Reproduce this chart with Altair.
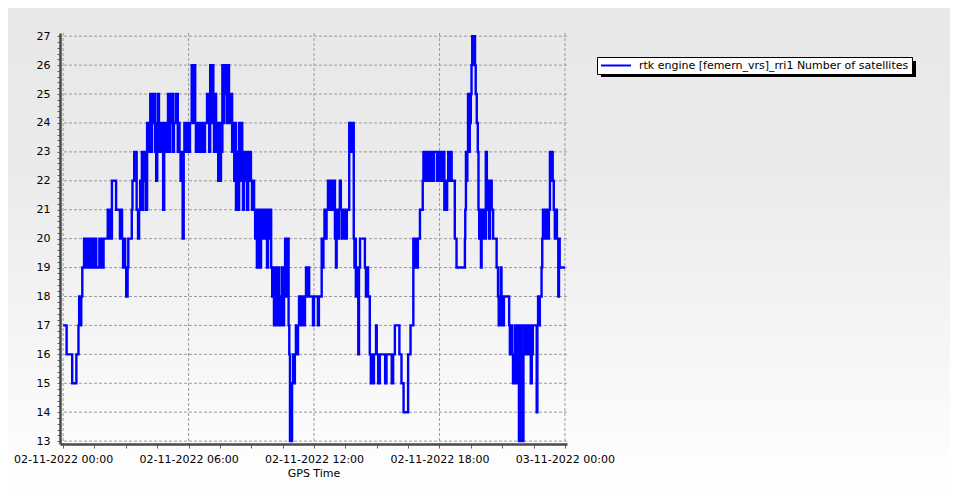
import altair as alt
import pandas as pd

# ---- data: change points of the step line ----
# minutes after 02-11-2022 00:00 (GPS Time)
minutes = [
    0, 10, 26, 38, 44, 46, 49, 52, 55, 60, 63, 66, 70, 75, 79, 83, 87, 92, 95, 104,
    108, 110, 113, 116, 128, 130, 133, 136, 140, 152, 163, 166, 169, 172, 175, 178, 181, 185, 187, 197,
    199, 204, 211,
    215, 218, 221, 224, 226, 228, 230, 232, 235, 238, 241, 244, 247, 250, 252, 255, 258, 261, 264, 267,
    270, 272, 275, 278, 281, 284, 287, 290, 293, 295, 298, 301, 304, 307, 310, 313, 315, 318, 323, 329,
    331, 334, 337, 340, 343, 346, 348, 350,
    353, 356, 358, 361, 364, 369, 371, 374, 379, 381, 384, 389, 391, 396, 399, 403, 407, 413, 416, 419,
    422, 424, 427, 431, 433, 436, 439, 442, 445, 447, 450, 453, 457, 459, 462, 465, 467, 470, 473, 476,
    479, 482, 485, 488, 491, 493, 496, 499, 502, 505, 508, 510, 514, 516, 519, 522, 525, 528, 531, 533,
    536, 539, 542, 545, 548,
    551, 554, 556, 559, 562, 565, 568, 571, 574, 576, 579, 582, 585, 588, 591, 594, 597, 600, 602, 605,
    608, 611, 614, 617, 620, 622, 625, 628, 631, 634, 637, 640, 642, 645, 647, 649, 651, 657, 660, 662,
    665, 668, 671, 674, 677, 680, 683, 685, 688, 691, 694, 697, 700, 703, 706,
    717, 720, 731, 734, 742, 744, 747, 750, 753, 756, 760, 763, 766, 769, 772, 774, 777, 780, 783, 785,
    789, 792, 794, 797, 800, 803, 806, 809, 812, 814,
    821, 823, 826, 829, 832, 834, 836, 838, 840, 843, 847, 849, 852, 866, 869, 872, 875, 880, 883, 886,
    889, 892, 898, 900, 904, 909, 924, 928, 943, 947, 952, 965, 971, 977, 990, 997, 1005, 1010, 1012, 1015,
    1018, 1024, 1032, 1034, 1037, 1040, 1042, 1045, 1048, 1051, 1055, 1058, 1061, 1064, 1073, 1075,
    1081, 1084, 1087, 1090, 1094, 1096, 1098, 1102, 1105, 1108, 1110, 1115, 1124, 1129, 1153, 1154, 1156, 1158,
    1160, 1162, 1164, 1167, 1170, 1172, 1174, 1176, 1179, 1182, 1184, 1187, 1190, 1192, 1194, 1196, 1199,
    1201, 1203, 1205, 1207, 1210, 1213, 1216, 1219, 1222, 1225, 1228, 1230, 1234, 1244,
    1248, 1250, 1256, 1258, 1261, 1263, 1265, 1280, 1282, 1285, 1288, 1291, 1293, 1296, 1299, 1302, 1305,
    1308, 1311, 1314, 1316, 1318, 1321, 1323, 1325, 1328, 1331, 1334, 1337, 1339, 1342, 1345, 1348, 1359,
    1361, 1363, 1365, 1368, 1373, 1375, 1377, 1380, 1382, 1385, 1388, 1391, 1394, 1397, 1400, 1402, 1405,
    1408, 1411, 1414, 1417, 1421, 1423, 1425, 1440,
]
# number of satellites from each change point on
sats = [
    17, 16, 15, 16, 17, 18, 17, 18, 19, 20, 19, 20, 19, 20, 19, 20, 19, 20, 19, 20,
    19, 20, 19, 20, 21, 20, 21, 20, 22, 21, 20, 21, 20, 19, 20, 19, 18, 19, 20, 21,
    22, 23, 21,
    20, 21, 22, 21, 23, 21, 23, 22, 23, 21, 24, 23, 24, 25, 23, 25, 24, 25, 23, 22,
    24, 25, 23, 24, 23, 24, 21, 23, 24, 23, 24, 25, 23, 25, 24, 25, 23, 24, 25, 23,
    24, 23, 22, 23, 20, 23, 24, 23,
    24, 23, 24, 23, 24, 26, 24, 26, 24, 23, 24, 23, 24, 23, 24, 23, 24, 25, 24, 23,
    26, 24, 26, 24, 23, 25, 24, 23, 22, 24, 22, 23, 26, 24, 26, 25, 26, 24, 26, 25,
    24, 25, 23, 24, 22, 24, 21, 23, 21, 24, 22, 24, 23, 21, 23, 22, 23, 21, 23, 22,
    23, 22, 21, 22, 21,
    20, 21, 19, 20, 21, 19, 20, 21, 20, 21, 20, 21, 19, 21, 20, 21, 19, 18, 19, 17,
    19, 18, 17, 19, 18, 17, 18, 19, 17, 18, 20, 19, 18, 20, 17, 16, 13, 15, 16, 15,
    16, 17, 16, 17, 18, 17, 18, 17, 18, 17, 18, 19, 18, 19, 18,
    17, 18, 17, 18, 20, 19, 20, 21, 20, 21, 22, 21, 22, 21, 22, 21, 22, 20, 19, 21,
    20, 21, 22, 21, 20, 21, 20, 21, 20, 21,
    24, 23, 24, 23, 24, 20, 19, 20, 18, 19, 16, 19, 20, 19, 18, 19, 18, 16, 15, 16,
    15, 16, 17, 16, 15, 16, 15, 16, 15, 16, 17, 16, 15, 14, 16, 17, 20, 19, 20, 19,
    20, 21, 22, 23, 22, 23, 22, 23, 22, 23, 22, 23, 22, 23, 22, 23,
    22, 23, 22, 23, 21, 22, 21, 22, 23, 22, 23, 22, 20, 19, 20, 21, 23, 22,
    23, 25, 23, 24, 25, 26, 27, 26, 27, 26, 25, 24, 23, 21, 20, 21, 19,
    20, 21, 20, 21, 20, 23, 21, 22, 20, 21, 22, 21, 20, 19,
    18, 17, 19, 17, 18, 17, 18, 17, 16, 17, 16, 15, 16, 17, 15, 16, 17,
    13, 15, 17, 16, 13, 16, 17, 16, 17, 16, 17, 16, 17, 15, 16, 17, 14,
    17, 18, 17, 18, 19, 20, 21, 20, 21, 20, 21, 20, 21, 23, 22, 23, 22,
    21, 20, 21, 20, 18, 20, 19, 19,
]

series_name = "rtk engine [femern_vrs]_rri1 Number of satellites"
grid_hours = [0, 6, 12, 18, 24]
grid_values = list(range(13, 28))

start = pd.Timestamp("2022-11-02 00:00")
df = pd.DataFrame({
    "time": [start + pd.Timedelta(minutes=m) for m in minutes],
    "sats": sats,
    "series": series_name,
})
grid_x = pd.DataFrame({"time": [start + pd.Timedelta(hours=h) for h in grid_hours]})
grid_y = pd.DataFrame({"sats": grid_values})

x_domain = [
    alt.DateTime(year=2022, month=11, date=1, hours=23, minutes=51),
    alt.DateTime(year=2022, month=11, date=3, hours=0, minutes=6),
]
x_scale = alt.Scale(domain=x_domain)
y_scale = alt.Scale(domain=[12.9, 27.11], nice=False, zero=False)

x_tick_values = [
    alt.DateTime(year=2022, month=11, date=2 + m // 1440, hours=(m % 1440) // 60, minutes=m % 60)
    for m in range(0, 1441, 90)
]
y_tick_values = [round(13 + 0.2 * i, 1) for i in range(71)]

W, H = 507, 411
FONT = "DejaVu Sans"

x_axis = alt.Axis(
    values=x_tick_values,
    title="GPS Time",
    grid=False,
    labelExpr="hours(datum.value) % 6 == 0 && minutes(datum.value) == 0 ? timeFormat(datum.value, '%d-%m-%Y %H:%M') : ''",
    labelOverlap=False,
    labelFlush=False,
    tickSize=4,
    tickColor="#606060",
    domainColor="#4a4a4a",
    domainWidth=2.5,
    labelPadding=5,
    labelFontSize=11,
    labelColor="black",
    titleFontSize=11,
    titleFontWeight="normal",
    titleColor="black",
    titlePadding=3,
    zindex=1,
)
y_axis = alt.Axis(
    values=y_tick_values,
    title=None,
    grid=False,
    labelExpr="datum.value == round(datum.value) ? format(datum.value, 'd') : ''",
    labelOverlap=False,
    labelFlush=False,
    tickSize=3,
    tickColor="#606060",
    domainColor="#4a4a4a",
    domainWidth=2.5,
    labelPadding=7,
    labelFontSize=11,
    labelColor="black",
    zindex=1,
)

grad = alt.LinearGradient(
    gradient="linear",
    stops=[
        alt.GradientStop(color="#e8e8e8", offset=0),
        alt.GradientStop(color="#ebebeb", offset=0.35),
        alt.GradientStop(color="#ffffff", offset=1),
    ],
    x1=0, x2=0, y1=0, y2=1,
)

one = pd.DataFrame({"a": [0]})
background = alt.Chart(one).mark_rect(color=grad).encode(
    x=alt.value(-52), x2=alt.value(890), y=alt.value(-25), y2=alt.value(457)
)
shadow = alt.Chart(one).mark_rect(color="black").encode(
    x=alt.value(541), x2=alt.value(856), y=alt.value(28), y2=alt.value(44)
)

grid_style = dict(color="#9a9a9a", strokeWidth=1, strokeDash=[3, 2])
vgrid = alt.Chart(grid_x).mark_rule(**grid_style).encode(
    x=alt.X("time:T", scale=x_scale, axis=x_axis)
)
hgrid = alt.Chart(grid_y).mark_rule(**grid_style).encode(
    y=alt.Y("sats:Q", scale=y_scale, axis=y_axis)
)

line = alt.Chart(df).mark_line(interpolate="step-after", strokeWidth=2.4).encode(
    x=alt.X("time:T", scale=x_scale, axis=x_axis),
    y=alt.Y("sats:Q", scale=y_scale, axis=y_axis),
    color=alt.Color(
        "series:N",
        scale=alt.Scale(range=["#0000ff"]),
        legend=alt.Legend(
            title=None,
            orient="none",
            legendX=537,
            legendY=24,
            symbolType="stroke",
            symbolSize=900,
            symbolStrokeWidth=2,
            clipHeight=11,
            labelFontSize=11,
            labelColor="black",
            labelLimit=400,
            labelOffset=7,
            strokeColor="black",
            fillColor="white",
            padding=3,
        ),
    ),
)

chart = (
    alt.layer(background, shadow, vgrid, hgrid, line)
    .properties(width=W, height=H, padding=0, background="white")
    .configure(font=FONT)
    .configure_view(stroke=None)
)

chart.save("out.html", embed_options={"renderer": "svg", "actions": False})
